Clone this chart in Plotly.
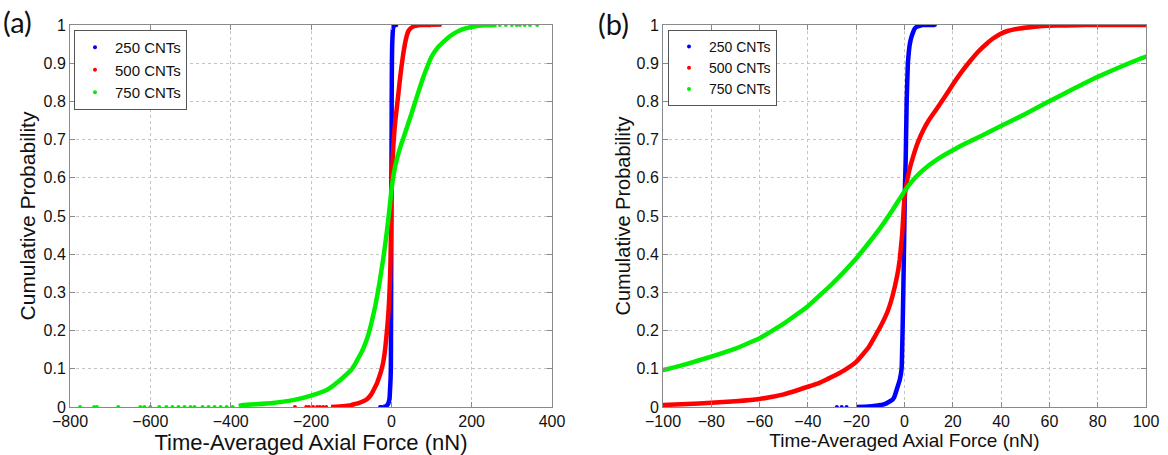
import plotly.graph_objects as go

# ---------------- data ----------------
# 250 CNTs cumulative curve
blue_x = [-20, -15, -12, -10, -8, -6, -4.8, -4, -3, -2, -1.2, -0.8, -0.5, -0.2, 0, 0.2, 0.5,
          0.9, 1.4, 1.8, 2.2, 2.8, 3.5, 4.2, 5, 6.3, 7.7, 12.6]
blue_y = [0.0, 0.001, 0.003, 0.005, 0.008, 0.015, 0.02, 0.03, 0.05, 0.07, 0.1, 0.2, 0.3, 0.42,
          0.5, 0.58, 0.65, 0.8, 0.9, 0.93, 0.95, 0.967, 0.98, 0.99, 0.995, 0.998, 1.0, 1.0]
blue_tail_x = [-28, -26, -24, 9, 10.5, 11.5, 12.6]
blue_tail_y = [0, 0, 0, 1, 1, 1, 1]

# 500 CNTs cumulative curve
red_x = [-150, -120, -100, -90, -80, -70, -60, -50, -40, -35, -30, -25, -20, -15, -10, -7, -5,
         -3, -2, -1, 0, 1, 2, 3.6, 5.5, 7.8, 10, 13.3, 16.5, 20.2, 23.5, 27.1, 30.5, 34, 36.5,
         39.5, 43, 47.8, 53, 58.9, 67, 75, 100]
red_y = [0.0, 0.002, 0.005, 0.008, 0.011, 0.015, 0.021, 0.033, 0.053, 0.064, 0.079, 0.096,
         0.118, 0.155, 0.21, 0.25, 0.29, 0.345, 0.385, 0.45, 0.55, 0.59, 0.62, 0.656, 0.692,
         0.725, 0.75, 0.78, 0.81, 0.846, 0.876, 0.905, 0.93, 0.951, 0.964, 0.976, 0.985,
         0.991, 0.995, 0.998, 0.999, 1.0, 1.0]
red_tail_x = [-240, -212, -205, -195, -185, -178, -170, -162, 102, 106, 110, 115, 121]
red_tail_y = [0, 0, 0, 0, 0, 0, 0, 0, 1, 1, 1, 1, 1]

# 750 CNTs cumulative curve
green_x = [-380, -369, -300, -244, -200, -161, -130, -100, -90, -80, -70, -60, -50, -40, -30,
           -20, -15, -10, -5, -2, 0, 3, 6, 10, 15, 20.2, 25, 31.3, 39.5, 50, 58.9, 70, 79.5,
           90, 100, 115, 129, 145, 163, 180, 204, 230, 262]
green_y = [0.003, 0.005, 0.01, 0.018, 0.03, 0.0445, 0.068, 0.097, 0.113, 0.132, 0.153, 0.18,
           0.218, 0.264, 0.322, 0.389, 0.428, 0.469, 0.515, 0.545, 0.565, 0.59, 0.61, 0.632,
           0.654, 0.673, 0.689, 0.708, 0.734, 0.767, 0.797, 0.833, 0.863, 0.892, 0.917, 0.94,
           0.955, 0.97, 0.982, 0.99, 0.9955, 0.999, 1.0]
green_tail_x = [-775, -740, -733, -680, -625, -615, -600, -578, -560, -545, -530, -515,
                -500, -490, -470, -455, -440, -425, -410, -395,
                270, 285, 300, 312, 320, 332, 345, 363]
green_tail_y = [0] * 20 + [1] * 8

series_names = ["250 CNTs", "500 CNTs", "750 CNTs"]
series_colors = ["#0000ff", "#ff0000", "#00ee00"]

x_ticks_a = [-800, -600, -400, -200, 0, 200, 400]
x_ticks_b = [-100, -80, -60, -40, -20, 0, 20, 40, 60, 80, 100]
y_ticks = [0, 0.1, 0.2, 0.3, 0.4, 0.5, 0.6, 0.7, 0.8, 0.9, 1]
y_tick_labels = ["0", "0.1", "0.2", "0.3", "0.4", "0.5", "0.6", "0.7", "0.8", "0.9", "1"]

# ---------------- figure ----------------
W, H = 1168, 455
FONT = "Liberation Sans, Arial, sans-serif"

fig = go.Figure()

curves = [(blue_x, blue_y, blue_tail_x, blue_tail_y),
          (red_x, red_y, red_tail_x, red_tail_y),
          (green_x, green_y, green_tail_x, green_tail_y)]

for panel, (xa, ya, leg) in enumerate([("x", "y", "legend"), ("x2", "y2", "legend2")]):
    for (cx, cy, tx, ty), name, col in zip(curves, series_names, series_colors):
        fig.add_trace(go.Scatter(x=cx, y=cy, mode="lines", xaxis=xa, yaxis=ya,
                                 line=dict(color=col, width=4.5, shape="spline", smoothing=0.3),
                                 showlegend=False, hoverinfo="skip"))
        fig.add_trace(go.Scatter(x=tx, y=ty, mode="markers", xaxis=xa, yaxis=ya,
                                 marker=dict(color=col, size=4), showlegend=False,
                                 hoverinfo="skip"))
    for name, col in zip(series_names, series_colors):
        fig.add_trace(go.Scatter(x=[None], y=[None], mode="markers", xaxis=xa, yaxis=ya,
                                 marker=dict(color=col, size=4), name=name,
                                 legend=leg, showlegend=True))

ax_common = dict(showline=True, linecolor="#8a8a8a", linewidth=1, mirror="ticks",
                 ticks="inside", ticklen=5, tickcolor="#8a8a8a", automargin=False,
                 showgrid=True, gridcolor="#c4c4c4", griddash="dot", gridwidth=1,
                 zeroline=False, tickfont=dict(family=FONT, size=16, color="#111"))

xa_dom = [70 / W, 552 / W]
xb_dom = [663 / W, 1146 / W]
y_dom = [1 - 407 / H, 1 - 25 / H]

fig.update_layout(
    width=W, height=H,
    margin=dict(l=0, r=0, t=0, b=0, autoexpand=False),
    paper_bgcolor="white", plot_bgcolor="white",
    font=dict(family=FONT, color="#111"),
    xaxis=dict(domain=xa_dom, range=[-800, 400], tickvals=x_ticks_a, anchor="y",
               title=dict(text="Time-Averaged Axial Force (nN)", font=dict(size=22), standoff=2),
               **ax_common),
    yaxis=dict(domain=y_dom, range=[0, 1], tickvals=y_ticks, ticktext=y_tick_labels, anchor="x",
               title=dict(text="Cumulative Probability", font=dict(size=21), standoff=2),
               **ax_common),
    xaxis2=dict(domain=xb_dom, range=[-100, 100], tickvals=x_ticks_b, anchor="y2",
                title=dict(text="Time-Averaged Axial Force (nN)", font=dict(size=19), standoff=2),
                **ax_common),
    yaxis2=dict(domain=y_dom, range=[0, 1], tickvals=y_ticks, ticktext=y_tick_labels, anchor="x2",
                title=dict(text="Cumulative Probability", font=dict(size=20), standoff=0),
                **ax_common),
    legend=dict(x=74 / W, y=1 - 30 / H, xanchor="left", yanchor="top",
                bgcolor="white", bordercolor="#555", borderwidth=1,
                font=dict(family=FONT, size=15, color="#111"),
                itemwidth=30, tracegroupgap=0),
    legend2=dict(x=668 / W, y=1 - 30 / H, xanchor="left", yanchor="top",
                 bgcolor="white", bordercolor="#555", borderwidth=1,
                 font=dict(family=FONT, size=14, color="#111"),
                 itemwidth=30, tracegroupgap=0),
    annotations=[
        dict(text="(a)", x=1 / W, y=1 - 2 / H, xref="paper", yref="paper",
             xanchor="left", yanchor="top", showarrow=False,
             font=dict(family="Lato, Open Sans, sans-serif", size=29, color="#111")),
        dict(text="(b)", x=596 / W, y=1 - 4 / H, xref="paper", yref="paper",
             xanchor="left", yanchor="top", showarrow=False,
             font=dict(family="Lato, Open Sans, sans-serif", size=29, color="#111")),
    ],
)

fig.write_html("out.html")
